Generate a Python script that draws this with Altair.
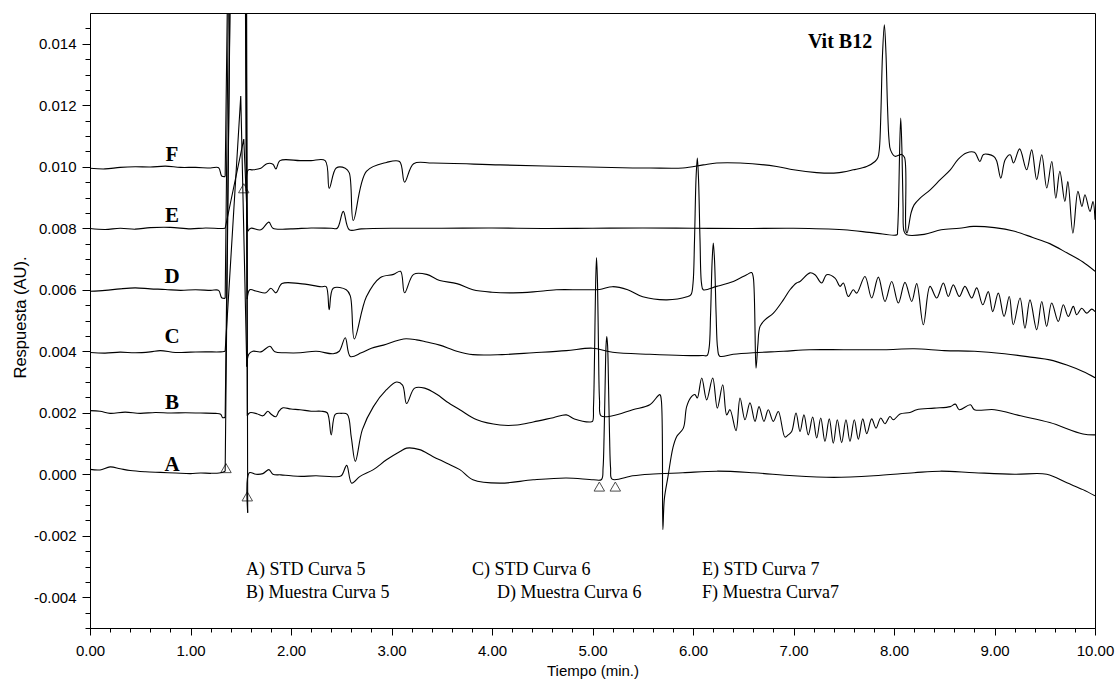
import altair as alt
import pandas as pd

# ---- chromatogram traces: (time in min, response in AU) ----
A = [(0.00,0.00016),(0.10,0.00014),(0.20,0.00024),(0.30,0.00018),(0.40,0.00012),(0.55,0.00008),(0.70,0.00006),
     (0.85,0.00004),(1.00,0.00002),(1.10,0.00004),(1.20,0.00003),(1.30,0.00005),(1.345,0.0001),(1.53,0.06),
     (1.569,-0.00125),(1.585,0.00005),(1.65,0.0),(1.72,0.00002),(1.78,0.00015),(1.82,0.0),(1.90,-0.00002),
     (2.00,-0.00005),(2.10,-0.00007),(2.25,-0.00005),(2.42,-0.00008),(2.50,-0.00005),(2.554,0.00029),
     (2.604,-0.00029),(2.687,-0.00007),(2.82,0.00015),(2.95,0.00047),(3.085,0.00074),(3.15,0.00085),
     (3.28,0.0008),(3.41,0.00058),(3.55,0.00036),(3.68,0.00015),(3.81,-0.00018),(4.08,-0.00029),
     (4.41,-0.00018),(4.74,-0.00012),(5.01,-0.00018),(5.09,-0.00017),(5.105,0.0002),(5.115,0.0012),
     (5.125,0.0028),(5.135,0.0042),(5.142,0.00448),(5.15,0.0042),(5.16,0.0028),(5.17,0.0012),(5.18,0.0002),
     (5.195,-0.00016),(5.4,-0.00005),(5.57,0.0),(5.9,0.00005),(6.24,0.0001),(6.6,0.00005),(7.0,-0.00005),
     (7.4,-0.0001),(7.8,-0.00005),(8.2,0.00005),(8.46,0.0001),(8.8,0.00005),(9.2,0.0),(9.52,0.0),
     (9.72,-0.00028),(9.88,-0.0005),(10.0,-0.0007)]

B = [(0.00,0.00207),(0.10,0.00205),(0.20,0.00198),(0.35,0.00202),(0.50,0.00198),(0.65,0.00201),(0.80,0.00199),
     (0.95,0.00200),(1.10,0.00199),(1.25,0.00198),(1.30,0.00195),(1.32,0.00184),(1.345,0.00185),(1.52,0.05),
     (1.565,0.0019),(1.59,0.0020),(1.66,0.00197),(1.72,0.0019),(1.77,0.00205),(1.80,0.00196),(1.85,0.00187),
     (1.88,0.00205),(1.92,0.00216),(2.00,0.00212),(2.09,0.0021),(2.20,0.00205),(2.30,0.00205),(2.36,0.0020),
     (2.40,0.00128),(2.44,0.00195),(2.50,0.00198),(2.56,0.00195),(2.60,0.0012),(2.64,0.00042),(2.71,0.00145),
     (2.82,0.0022),(2.95,0.00275),(3.05,0.0030),(3.11,0.0029),(3.15,0.0023),(3.23,0.0028),(3.33,0.0028),
     (3.45,0.0026),(3.55,0.00236),(3.68,0.0021),(3.85,0.00177),(4.08,0.0016),(4.25,0.0016),(4.41,0.0017),
     (4.61,0.00184),(4.74,0.00193),(4.82,0.0018),(4.97,0.0017),(5.00,0.00172),(5.01,0.0022),(5.02,0.0038),
     (5.03,0.0060),(5.04,0.00705),(5.05,0.0062),(5.06,0.0040),(5.07,0.0024),(5.085,0.0019),(5.2,0.0019),
     (5.4,0.0021),(5.57,0.00226),(5.67,0.00259),(5.685,0.0024),(5.70,-0.0018),(5.715,-0.0008),(5.751,-0.00008),
     (5.8,0.00086),(5.838,0.00123),(5.904,0.0015),(5.937,0.0022),(5.987,0.00253),(6.02,0.00259),(6.043,0.00248),
     (6.087,0.00313),(6.136,0.00242),(6.196,0.00313),(6.242,0.00215),(6.296,0.00291),(6.335,0.00193),
     (6.368,0.0021),(6.428,0.00142),(6.468,0.00248),(6.517,0.00177),(6.567,0.00232),(6.617,0.00172),
     (6.657,0.0022),(6.706,0.00172),(6.749,0.0021),(6.799,0.00172),(6.849,0.00204),(6.915,0.00121),
     (6.948,0.00128),(6.982,0.00139),(7.025,0.00199),(7.065,0.00139),(7.104,0.00193),(7.147,0.00128),
     (7.191,0.00186),(7.231,0.00118),(7.271,0.00183),(7.313,0.00107),(7.356,0.0018),(7.396,0.00101),
     (7.436,0.00177),(7.479,0.00103),(7.522,0.00177),(7.562,0.00107),(7.605,0.00177),(7.645,0.00114),
     (7.689,0.0018),(7.729,0.00132),(7.778,0.0018),(7.821,0.0015),(7.868,0.00183),(7.910,0.00164),
     (7.960,0.00188),(7.993,0.00177),(8.06,0.00196),(8.159,0.00201),(8.226,0.0021),(8.4,0.00215),(8.56,0.0022),
     (8.61,0.00228),(8.65,0.0021),(8.76,0.00226),(8.8,0.0021),(9.0,0.0021),(9.26,0.0019),(9.55,0.00168),
     (9.88,0.00131),(10.0,0.00128)]

C = [(0.00,0.00396),(0.15,0.00394),(0.30,0.00397),(0.45,0.00395),(0.60,0.00398),(0.70,0.00402),(0.85,0.00396),
     (1.00,0.00397),(1.15,0.00398),(1.30,0.00398),(1.345,0.0040),(1.50,0.0123),(1.56,0.0035),(1.58,0.0039),
     (1.62,0.0040),(1.70,0.00398),(1.79,0.00416),(1.84,0.00398),(1.95,0.00395),(2.09,0.00395),(2.25,0.0040),
     (2.42,0.00392),(2.48,0.0040),(2.54,0.00444),(2.59,0.00383),(2.70,0.00395),(2.80,0.0041),(2.92,0.0042),
     (3.12,0.0044),(3.25,0.00437),(3.35,0.0043),(3.48,0.0042),(3.65,0.0040),(3.81,0.00389),(4.1,0.00389),
     (4.41,0.00395),(4.74,0.00402),(5.0,0.0041),(5.2,0.00397),(5.57,0.0039),(5.9,0.00386),(6.1,0.00386),
     (6.14,0.00386),(6.16,0.0041),(6.175,0.0052),(6.19,0.0069),(6.202,0.00752),(6.215,0.0069),(6.23,0.0052),
     (6.245,0.0041),(6.265,0.00384),(6.4,0.0039),(6.6,0.00395),(6.9,0.0040),(7.16,0.00405),(7.5,0.00405),
     (7.9,0.00405),(8.2,0.00408),(8.5,0.00402),(8.8,0.0040),(9.1,0.00392),(9.38,0.0038),(9.55,0.00372),
     (9.72,0.00355),(9.88,0.00334),(10.0,0.00314)]

D = [(0.00,0.00595),(0.15,0.00598),(0.30,0.00603),(0.45,0.00606),(0.60,0.00603),(0.75,0.00601),(0.90,0.00598),
     (1.05,0.0060),(1.20,0.00598),(1.28,0.00598),(1.31,0.00574),(1.345,0.00572),(1.51,0.055),(1.565,0.0057),
     (1.59,0.0060),(1.66,0.00595),(1.75,0.0059),(1.80,0.00605),(1.85,0.0059),(1.91,0.0062),(2.09,0.0062),
     (2.30,0.0061),(2.35,0.0061),(2.38,0.00535),(2.42,0.00605),(2.55,0.0060),(2.59,0.0058),(2.63,0.0044),
     (2.75,0.00577),(2.89,0.0064),(3.02,0.0065),(3.09,0.0066),(3.13,0.0059),(3.22,0.0065),(3.35,0.0065),
     (3.48,0.0063),(3.65,0.0062),(3.81,0.0060),(4.0,0.00592),(4.21,0.0059),(4.41,0.00593),(4.64,0.0060),
     (4.9,0.0060),(5.07,0.00601),(5.2,0.0061),(5.35,0.0060),(5.5,0.00577),(5.74,0.00567),(5.94,0.00577),
     (5.98,0.00584),(6.0,0.0062),(6.015,0.0076),(6.03,0.0096),(6.043,0.01028),(6.055,0.0096),(6.07,0.0076),
     (6.085,0.0062),(6.102,0.0060),(6.236,0.00611),(6.401,0.00627),(6.534,0.00649),(6.584,0.00656),
     (6.60,0.0064),(6.627,0.00345),(6.645,0.0042),(6.667,0.00481),(6.716,0.00502),(6.8,0.00524),
     (6.899,0.00567),(6.965,0.0060),(7.03,0.00622),(7.065,0.00627),(7.164,0.00655),(7.214,0.00649),
     (7.28,0.00622),(7.33,0.00649),(7.413,0.00638),(7.463,0.00611),(7.496,0.00622),(7.545,0.00578),
     (7.595,0.0060),(7.629,0.00589),(7.711,0.00643),(7.778,0.00573),(7.844,0.00641),(7.910,0.00562),
     (7.977,0.00627),(8.043,0.00557),(8.109,0.00624),(8.176,0.00562),(8.226,0.0062),(8.292,0.00486),
     (8.358,0.00611),(8.425,0.00573),(8.491,0.00622),(8.54,0.00578),(8.59,0.00616),(8.65,0.00578),
     (8.706,0.00611),(8.773,0.00573),(8.823,0.00606),(8.883,0.00551),(8.938,0.00594),(8.982,0.00529),
     (9.038,0.00589),(9.095,0.00513),(9.147,0.00578),(9.187,0.00486),(9.254,0.00573),(9.303,0.00475),
     (9.353,0.00567),(9.42,0.0047),(9.47,0.00562),(9.519,0.00481),(9.569,0.00557),(9.635,0.00497),
     (9.685,0.00551),(9.734,0.00513),(9.784,0.00546),(9.818,0.00519),(9.868,0.0054),(9.917,0.00524),
     (9.967,0.00537),(10.0,0.00529)]

E = [(0.00,0.00799),(0.15,0.00796),(0.30,0.0080),(0.45,0.00797),(0.60,0.00802),(0.80,0.00803),(1.00,0.00798),
     (1.15,0.00801),(1.30,0.00799),(1.345,0.0080),(1.53,0.0109),(1.57,0.0079),(1.60,0.0080),(1.70,0.00795),
     (1.78,0.0082),(1.82,0.0080),(2.00,0.00798),(2.20,0.00801),(2.40,0.0080),(2.46,0.0080),(2.52,0.00855),
     (2.58,0.00795),(2.70,0.00798),(3.0,0.0080),(3.5,0.0080),(4.0,0.00801),(4.5,0.00799),(5.0,0.0080),
     (5.5,0.00801),(6.0,0.0080),(6.5,0.00799),(7.0,0.0080),(7.5,0.00795),(7.8,0.00785),(8.03,0.00779),
     (8.035,0.0079),(8.045,0.0087),(8.055,0.0104),(8.067,0.01158),(8.08,0.0104),(8.09,0.0087),(8.10,0.0079),
     (8.126,0.00779),(8.3,0.0078),(8.47,0.00795),(8.65,0.0080),(8.79,0.00806),(9.0,0.00802),(9.2,0.0079),
     (9.38,0.0077),(9.55,0.0075),(9.72,0.0072),(9.88,0.0069),(10.0,0.0066)]

F = [(0.00,0.00995),(0.15,0.00993),(0.30,0.00998),(0.45,0.0100),(0.60,0.00999),(0.75,0.01002),(0.90,0.00998),
     (1.05,0.00998),(1.20,0.00996),(1.28,0.00997),(1.31,0.0097),(1.345,0.00968),(1.50,0.05),(1.555,0.0092),
     (1.575,0.0099),(1.62,0.0099),(1.70,0.00995),(1.76,0.0101),(1.82,0.01008),(1.85,0.00993),(1.89,0.0102),
     (2.09,0.0102),(2.20,0.0102),(2.34,0.0102),(2.38,0.0093),(2.45,0.00996),(2.54,0.00995),(2.58,0.0098),
     (2.62,0.00825),(2.75,0.00985),(2.95,0.01014),(3.08,0.01017),(3.13,0.0095),(3.22,0.0101),(3.41,0.01012),
     (4.08,0.01006),(4.74,0.01001),(5.4,0.00996),(5.572,0.00996),(5.9,0.00996),(6.102,0.01006),(6.236,0.01012),
     (6.468,0.01012),(6.833,0.01001),(7.0,0.0099),(7.23,0.00981),(7.43,0.0098),(7.595,0.0099),(7.728,0.01001),
     (7.811,0.01017),(7.84,0.0103),(7.855,0.0106),(7.87,0.0118),(7.885,0.0136),(7.904,0.01462),(7.92,0.0137),
     (7.935,0.0120),(7.95,0.0109),(7.965,0.01055),(8.01,0.01034),(8.077,0.0104),(8.105,0.0103),(8.12,0.0079),
     (8.13,0.00785),(8.17,0.0085),(8.20,0.00876),(8.26,0.00898),(8.36,0.00925),(8.46,0.00958),(8.56,0.0099),
     (8.64,0.01025),(8.72,0.01045),(8.80,0.01047),(8.855,0.01017),(8.89,0.0104),(8.99,0.01034),(9.02,0.0102),
     (9.063,0.00963),(9.106,0.01023),(9.156,0.01039),(9.189,0.01012),(9.25,0.01058),(9.32,0.0099),
     (9.37,0.01055),(9.42,0.00958),(9.47,0.01039),(9.52,0.00931),(9.57,0.01017),(9.61,0.00898),(9.65,0.00985),
     (9.70,0.00887),(9.73,0.00952),(9.78,0.00784),(9.83,0.0092),(9.87,0.00871),(9.90,0.00909),(9.95,0.00855),
     (9.98,0.00887),(10.0,0.00828)]

# integration markers
marker_t = [1.353, 1.565, 1.53, 5.068, 5.227]
marker_v = [0.0002, -0.00072, 0.0093, -0.0004, -0.0004]

# trace letters
letter_text = ["F", "E", "D", "C", "B", "A"]
letter_t = [0.816, 0.816, 0.816, 0.816, 0.816, 0.816]
letter_v = [0.01038, 0.0084, 0.00641, 0.00446, 0.00232, 0.0003]

# peak annotation
peak_text = ["Vit B12"]
peak_t = [7.463]
peak_v = [0.01405]

# legend block
legend_text = ["A) STD Curva 5", "B) Muestra Curva 5", "C) STD  Curva 6",
               "D) Muestra Curva 6", "E) STD Curva 7", "F) Muestra Curva7"]
legend_t = [1.552, 1.552, 3.801, 4.05, 6.09, 6.09]
legend_v = [-0.00311, -0.00386, -0.00311, -0.00386, -0.00311, -0.00386]

x_ticks = [round(i * 0.2, 1) for i in range(51)]
y_ticks = [round(i * 0.0005, 4) for i in range(-10, 30)]

# Split each trace into a smooth part and the injection-spike part (drawn straight)
smooth_rows, spike_rows = [], []
for name, pts in [("A", A), ("B", B), ("C", C), ("D", D), ("E", E), ("F", F)]:
    early = [k for k, (t, v) in enumerate(pts) if t < 1.6]
    apex = max(early, key=lambda k: pts[k][1])
    for i, (t, v) in enumerate(pts):
        if i <= apex - 1:
            smooth_rows.append({"seg": name + "1", "i": i, "t": t, "v": v})
        if i >= apex + 1:
            smooth_rows.append({"seg": name + "2", "i": i, "t": t, "v": v})
        if apex - 1 <= i <= apex + 1:
            spike_rows.append({"seg": name, "i": i, "t": t, "v": v})
df_smooth = pd.DataFrame(smooth_rows)
df_spike = pd.DataFrame(spike_rows)

mk = pd.DataFrame({"t": marker_t, "v": marker_v})
lt = pd.DataFrame({"t": letter_t, "v": letter_v, "label": letter_text})
pk = pd.DataFrame({"t": peak_t, "v": peak_v, "label": peak_text})
lg = pd.DataFrame({"t": legend_t, "v": legend_v, "label": legend_text})

x_major = "abs(datum.value - round(datum.value)) < 0.001"
y_major = "abs(datum.value/0.002 - round(datum.value/0.002)) < 0.001"

x_axis = alt.Axis(
    values=x_ticks,
    labelExpr=f"{x_major} ? format(datum.value, '.2f') : ''",
    tickSize={"condition": {"test": x_major, "value": 7}, "value": 4},
    labelOverlap=False, labelFlush=False, labelBound=False, labelPadding=8,
    titleY=42, titleBaseline="middle", titleAnchor="middle",
)
y_axis = alt.Axis(
    values=y_ticks,
    labelExpr=f"{y_major} ? (datum.value < -0.0000001 ? '-' : '') + format(abs(datum.value), '.3f') : ''",
    tickSize={"condition": {"test": y_major, "value": 8}, "value": 5},
    labelOverlap=False, labelFlush=False, labelBound=False, labelPadding=6,
    titleX=-70, titleY=304, titleBaseline="middle", titleAngle=270, titleFontSize=16.5,
)

xs = alt.Scale(domain=[0, 10], nice=False, zero=False)
ys = alt.Scale(domain=[-0.005, 0.015], nice=False, zero=False)

X = alt.X("t:Q", scale=xs, axis=x_axis, title="Tiempo (min.)")
Y = alt.Y("v:Q", scale=ys, axis=y_axis, title="Respuesta (AU).")

lines = alt.Chart(df_smooth).mark_line(
    clip=True, interpolate="catmull-rom", color="black", strokeWidth=1.1
).encode(x=X, y=Y, detail="seg:N", order="i:Q")

spikes = alt.Chart(df_spike).mark_line(
    clip=True, interpolate="linear", color="black", strokeWidth=1.1
).encode(x=X, y=Y, detail="seg:N", order="i:Q")

markers = alt.Chart(mk).mark_point(
    shape="triangle-up", filled=False, color="black", size=110, strokeWidth=1
).encode(x=X, y=Y)

letters = alt.Chart(lt).mark_text(
    font="Liberation Serif", fontWeight="bold", fontSize=21, color="black",
    align="center", baseline="middle"
).encode(x=X, y=Y, text="label:N")

peak = alt.Chart(pk).mark_text(
    font="Liberation Serif", fontWeight="bold", fontSize=20, color="black",
    align="center", baseline="middle"
).encode(x=X, y=Y, text="label:N")

legend = alt.Chart(lg).mark_text(
    font="Liberation Serif", fontSize=18, color="black",
    align="left", baseline="middle"
).encode(x=X, y=Y, text="label:N")

chart = alt.layer(lines, spikes, markers, letters, peak, legend).properties(
    width=1005, height=615,
    autosize=alt.AutoSizeParams(type="none"),
    padding={"left": 90, "top": 13, "right": 22, "bottom": 54},
    background="white",
).configure_view(
    stroke="black", strokeWidth=1
).configure_axis(
    grid=False, domainColor="black", tickColor="black", labelColor="black", titleColor="black",
    labelFont="Liberation Sans", titleFont="Liberation Sans", labelFontSize=15, titleFontSize=15,
    titleFontWeight="normal", domainWidth=1, tickWidth=1, labelOverlap=False,
)

chart.save("out.html", embed_options={"renderer": "svg", "actions": False})
